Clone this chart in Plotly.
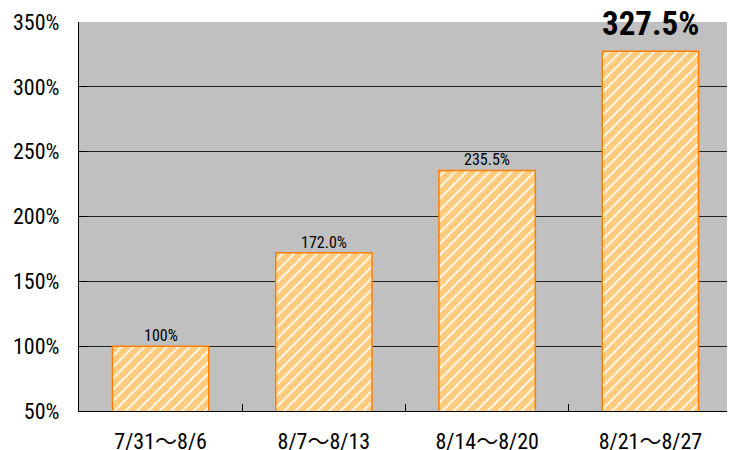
import plotly.graph_objects as go

categories = ["7/31～8/6", "8/7～8/13", "8/14～8/20", "8/21～8/27"]
values = [100, 172.0, 235.5, 327.5]
labels = ["100%", "172.0%", "235.5%", "327.5%"]
y_ticks = [50, 100, 150, 200, 250, 300, 350]
y_tick_text = ["50%", "100%", "150%", "200%", "250%", "300%", "350%"]

FONT = "Roboto Condensed, DejaVu Sans Condensed, sans-serif"


def wide_tilde(s):
    return s.replace("～", '<span style="font-family:Noto Sans CJK JP">～</span>')


fig = go.Figure()
fig.add_trace(go.Bar(
    x=categories, y=values,
    width=0.59,
    marker=dict(
        color="white",
        line=dict(color="#FF8000", width=1.5),
        pattern=dict(shape="/", fgcolor="#FF9900", bgcolor="white", size=8, solidity=0.8),
    ),
    hoverinfo="skip",
))

for i, (c, v, t) in enumerate(zip(categories, values, labels)):
    big = i == len(values) - 1
    fig.add_annotation(
        x=c, y=v, text=f"<b>{t}</b>" if big else t,
        showarrow=False, yanchor="bottom", yshift=6 if big else -1,
        font=dict(family=FONT, size=33 if big else 16, color="black"),
    )

# page body has an 8px default margin, so the figure is shrunk by 8px
fig.update_layout(
    width=727, height=442,
    margin=dict(l=71, r=3, t=14, b=39, autoexpand=False),
    paper_bgcolor="white",
    plot_bgcolor="#C0C0C0",
    showlegend=False,
    font=dict(family=FONT, color="black"),
)
fig.update_xaxes(
    tickvals=categories, ticktext=[wide_tilde(c) for c in categories],
    showline=True, linecolor="black", linewidth=1.2,
    ticks="inside", tickson="boundaries", ticklen=7, tickcolor="black",
    tickfont=dict(size=22, family=FONT), showgrid=False, automargin=False,
    ticklabelstandoff=10,
)
fig.update_yaxes(
    range=[50, 350], tickvals=y_ticks, ticktext=y_tick_text,
    showline=True, linecolor="black", linewidth=1.2,
    ticks="inside", ticklen=8, tickcolor="black",
    showgrid=True, gridcolor="#202020", gridwidth=1,
    tickfont=dict(size=22, family=FONT), automargin=False,
    ticklabelstandoff=14,
)

fig.write_html("out.html")
